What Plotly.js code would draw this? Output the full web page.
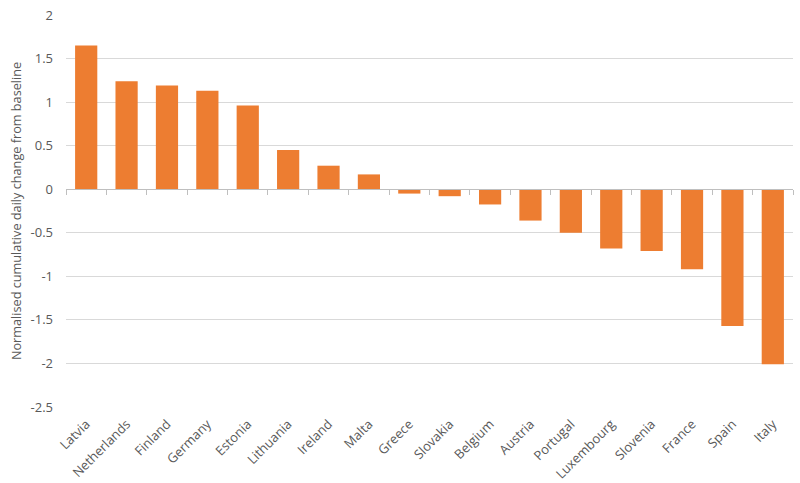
<!DOCTYPE html>
<html><head><meta charset="utf-8">
<script src="https://cdn.plot.ly/plotly-3.0.1.min.js"></script>
<style>html,body{margin:0;padding:0;background:#fff}#c{width:800px;height:483px}</style>
</head><body><div id="c"></div>
<script>
const countries = ["Latvia","Netherlands","Finland","Germany","Estonia","Lithuania","Ireland","Malta","Greece","Slovakia","Belgium","Austria","Portugal","Luxembourg","Slovenia","France","Spain","Italy"];
const values = [1.65,1.24,1.19,1.13,0.96,0.45,0.27,0.17,-0.05,-0.08,-0.175,-0.36,-0.5,-0.68,-0.71,-0.92,-1.57,-2.01];
const yTicks = [2,1.5,1,0.5,0,-0.5,-1,-1.5,-2,-2.5];
const yTickText = ["2","1.5","1","0.5","0","-0.5","-1","-1.5","-2","-2.5"];
const yMin = -2.5, yMax = 2;

const font = {family:"Open Sans, Noto Sans, sans-serif", size:13, color:"#595959"};
const titleFont = {family:"Open Sans, Noto Sans, sans-serif", size:12.7, color:"#595959"};
const xRange = [-0.5, countries.length - 0.5];
const traces = [
  {type:"bar", x:countries, y:values, marker:{color:"#ED7D31", line:{width:0}}, hoverinfo:"x+y"},
  {type:"scatter", x:countries, y:values, xaxis:"x2", mode:"markers", marker:{opacity:0, size:1}, hoverinfo:"skip", showlegend:false}
];
const layout = {
  width:800, height:483,
  margin:{l:66, r:7, t:15, b:76},
  paper_bgcolor:"#fff", plot_bgcolor:"#fff",
  font:font, showlegend:false, bargap:0.45,
  xaxis:{type:"category", range:xRange, autorange:false, tickangle:-45, showline:false, showgrid:false, zeroline:false, ticks:"", tickfont:font, ticklabelstandoff:6},
  xaxis2:{type:"category", overlaying:"x", range:xRange, autorange:false, anchor:"free", position:(0-yMin)/(yMax-yMin),
          showline:true, linecolor:"#BFBFBF", linewidth:1, ticks:"outside", ticklen:5, tickcolor:"#BFBFBF",
          tickson:"boundaries", showticklabels:false, showgrid:false, zeroline:false},
  yaxis:{range:[yMin,yMax], tickvals:yTicks, ticktext:yTickText, showgrid:true, gridcolor:"#D9D9D9", gridwidth:1,
         zeroline:false, showline:false, ticks:"", tickfont:font, ticklabelstandoff:12,
         title:{text:"Normalised cumulative daily change from baseline", font:titleFont, standoff:6}}
};
Plotly.newPlot("c", traces, layout, {displayModeBar:false, staticPlot:true});
</script></body></html>
